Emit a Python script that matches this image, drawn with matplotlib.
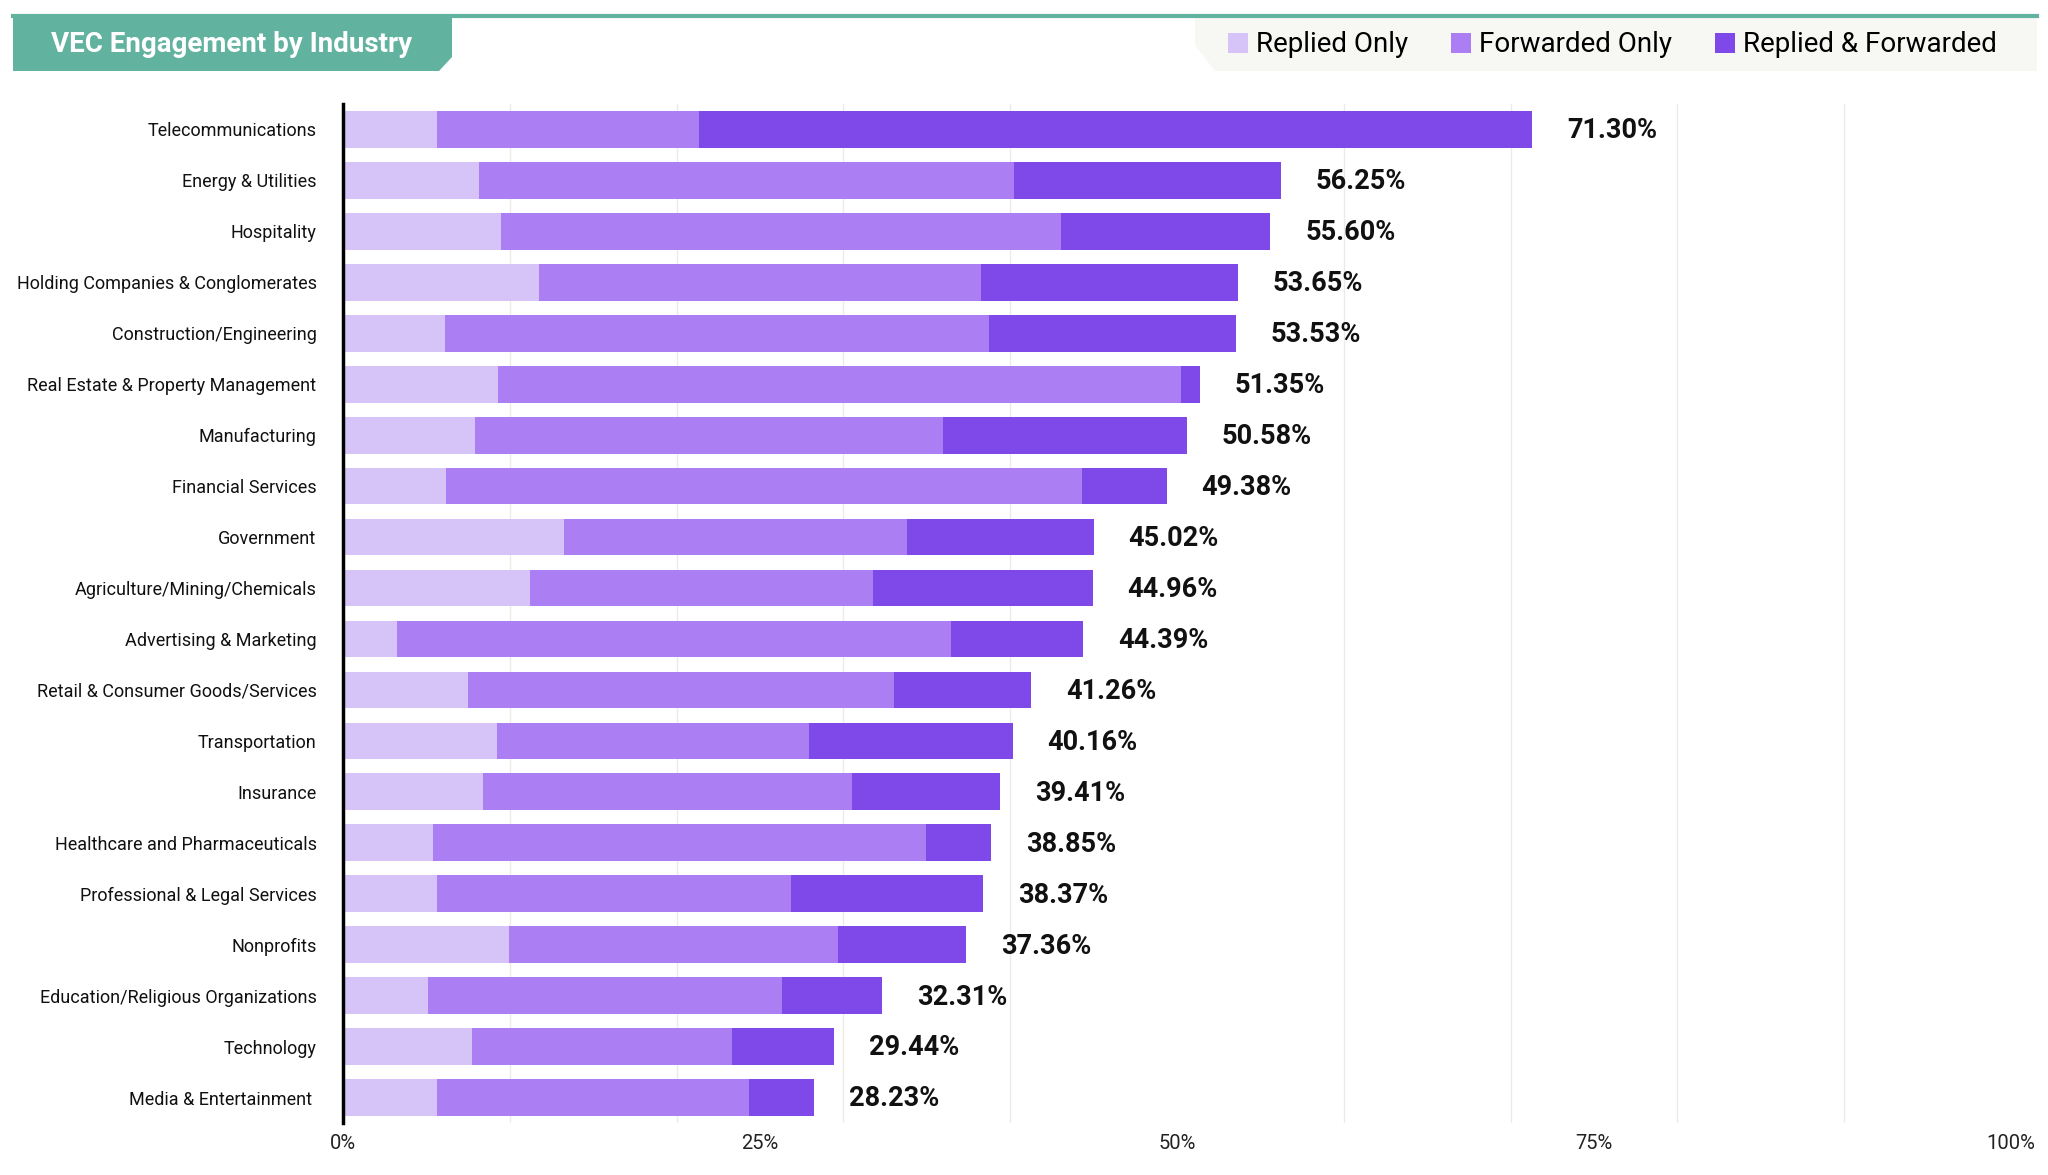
import numpy as np
import matplotlib.pyplot as plt
from matplotlib.patches import Polygon, Patch

plt.rcParams['font.family'] = ['Roboto', 'DejaVu Sans']

industries = [
    "Telecommunications", "Energy & Utilities", "Hospitality",
    "Holding Companies & Conglomerates", "Construction/Engineering",
    "Real Estate & Property Management", "Manufacturing", "Financial Services",
    "Government", "Agriculture/Mining/Chemicals", "Advertising & Marketing",
    "Retail & Consumer Goods/Services", "Transportation", "Insurance",
    "Healthcare and Pharmaceuticals", "Professional & Legal Services",
    "Nonprofits", "Education/Religious Organizations", "Technology",
    "Media & Entertainment ",
]
replied_only = [5.63, 8.14, 9.47, 11.74, 6.10, 9.31, 7.90, 6.18, 13.22, 11.19,
                3.21, 7.51, 9.23, 8.37, 5.40, 5.63, 9.94, 5.09, 7.75, 5.63]
forwarded_only = [15.73, 32.08, 33.57, 26.53, 32.63, 40.92, 28.09, 38.11, 20.58, 20.58,
                  33.26, 25.51, 18.70, 22.14, 29.58, 21.21, 19.72, 21.21, 15.57, 18.70]
totals = [71.30, 56.25, 55.60, 53.65, 53.53, 51.35, 50.58, 49.38, 45.02, 44.96,
          44.39, 41.26, 40.16, 39.41, 38.85, 38.37, 37.36, 32.31, 29.44, 28.23]
replied_forwarded = [t - r - f for t, r, f in zip(totals, replied_only, forwarded_only)]

series_names = ["Replied Only", "Forwarded Only", "Replied & Forwarded"]
colors = ["#d6c4f8", "#ab7ff3", "#7f48e8"]

W, H = 2048, 1175
fig = plt.figure(figsize=(W / 100, H / 100), dpi=100)
ax = fig.add_axes([343 / W, 1 - 1123 / H, (2011 - 343) / W, (1123 - 104) / H])

y = np.arange(len(industries))
left = np.zeros(len(industries))
for vals, c in zip([replied_only, forwarded_only, replied_forwarded], colors):
    ax.barh(y, vals, left=left, height=0.72, color=c, zorder=3)
    left += np.array(vals)

for yi, t in zip(y, totals):
    ax.annotate("%.2f%%" % t, (t, yi), xytext=(25, -1), textcoords="offset points",
                va="center", ha="left", fontsize=19.5, fontweight="bold", color="#111111")

ax.set_ylim(len(industries) - 0.5, -0.5)
ax.set_xlim(0, 100)
ax.set_yticks(y)
ax.set_yticklabels(industries, fontsize=13, color="#111111")
ax.set_xticks([0, 25, 50, 75, 100])
ax.set_xticklabels(["0%", "25%", "50%", "75%", "100%"], fontsize=14.5, color="#222222")
ax.set_xticks(np.arange(10, 100, 10), minor=True)
ax.tick_params(axis="y", length=0, pad=19)
ax.tick_params(axis="x", which="both", length=0, pad=8)
ax.grid(axis="x", which="minor", color="#ecebe6", linewidth=1, zorder=0)
for s in ["top", "right", "bottom"]:
    ax.spines[s].set_visible(False)
ax.spines["left"].set_linewidth(2.5)
ax.spines["left"].set_color("black")
ax.spines["left"].set_zorder(5)

# header: teal line, title tab, legend box
fig.add_artist(plt.Line2D([13 / W, 2037 / W], [1 - 16 / H, 1 - 16 / H],
                          transform=fig.transFigure, color="#62b2a0", linewidth=3))
title_pts = [(13, 16), (452, 16), (452, 57), (439, 71), (13, 71)]
fig.add_artist(Polygon([(px / W, 1 - py / H) for px, py in title_pts], closed=True,
                       transform=fig.transFigure, facecolor="#62b2a0", edgecolor="none"))
fig.text(51 / W, 1 - 45 / H, "VEC Engagement by Industry", fontsize=20, fontweight="bold",
         color="white", va="center", ha="left")
legend_pts = [(1195, 17), (2037, 17), (2037, 71), (1215, 71), (1195, 45)]
fig.add_artist(Polygon([(px / W, 1 - py / H) for px, py in legend_pts], closed=True,
                       transform=fig.transFigure, facecolor="#f7f7f4", edgecolor="none"))

handles = [Patch(facecolor=c, edgecolor="none") for c in colors]
fig.legend(handles, series_names, loc="center right", bbox_to_anchor=(2008 / W, 1 - 45 / H),
           ncol=3, frameon=False, fontsize=20, handlelength=0.7, handleheight=0.7,
           handletextpad=0.3, columnspacing=1.55, borderaxespad=0)

fig.savefig("out.png", dpi=100)
